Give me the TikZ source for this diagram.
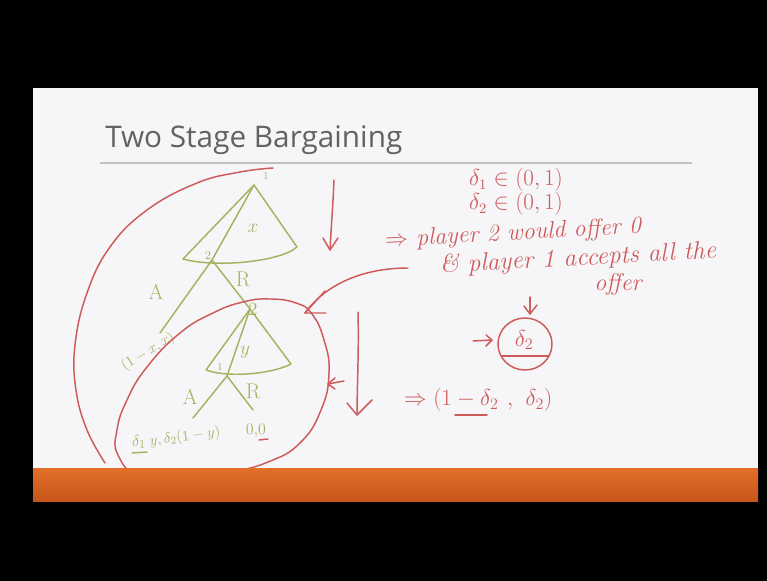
\documentclass[tikz,border=0pt]{standalone}
\usepackage{fontspec}
\usepackage{amsmath}
\usepackage{amssymb}
\usepackage{tikz}
\newfontfamily\titlefont{Open Sans}

\definecolor{penred}{RGB}{206,90,90}
\definecolor{pengreen}{RGB}{166,178,96}
\definecolor{slidebg}{RGB}{246,246,248}
\definecolor{titlegray}{RGB}{98,98,98}
\definecolor{rulegray}{RGB}{192,192,192}
\definecolor{bartop}{RGB}{226,112,40}
\definecolor{barbottom}{RGB}{196,84,26}

\tikzset{
  redpen/.style={draw=penred, line width=1.1pt, line cap=round, line join=round},
  greenpen/.style={draw=pengreen, line width=1.1pt, line cap=round, line join=round},
  redtext/.style={text=penred, inner sep=0.75pt, font=\itshape\fontsize{18}{20}\selectfont},
  greentext/.style={text=pengreen, inner sep=0.75pt, font=\itshape\fontsize{13}{15}\selectfont},
}

\begin{document}
\begin{tikzpicture}[x=0.75pt,y=0.75pt,yscale=-1,xscale=1]
\useasboundingbox (0,0) rectangle (767,581);

%Slide
\fill [black] (0,0) rectangle (767,581);
\fill [slidebg] (33,88) rectangle (758,468);

% Text Node
\draw (105,148) node [anchor=base west][inner sep=0pt][text=titlegray, font=\titlefont\fontsize{22.3}{26}\selectfont] (title) {Two Stage Bargaining};
%Straight Lines
\draw [rulegray, line width=1.2pt] (100,163) -- (692,163);

%Tree points
\coordinate (root) at (254,185);
\coordinate (xl) at (183,259);
\coordinate (xr) at (297,247);
\coordinate (p2) at (212,260);
\coordinate (acc1) at (160,333);
\coordinate (rej1) at (250,309);
\coordinate (yl) at (206,370);
\coordinate (yr) at (291,364);
\coordinate (p1) at (227,376);
\coordinate (acc2) at (193,418);
\coordinate (rej2) at (253,410);

%Shape: offer of player 1
\draw [greenpen] (xl) -- (root) -- (xr) .. controls (280,262) and (215,268) .. (xl) ;
%Straight Lines
\draw [greenpen] (root) -- (p2) -- (acc1) ;
\draw [greenpen] (p2) -- (rej1) ;
%Shape: offer of player 2
\draw [greenpen] (yl) -- (rej1) -- (yr) .. controls (272,374) and (228,378) .. (yl) ;
%Straight Lines
\draw [greenpen] (rej1) -- (p1) -- (acc2) ;
\draw [greenpen] (p1) -- (rej2) ;

% Text Node
\draw (266,176) node [greentext, font=\fontsize{8}{9}\selectfont] (who1) {1};
% Text Node
\draw (253,228) node [greentext, font=\fontsize{15}{16}\selectfont] (share1) {$x$};
% Text Node
\draw (208,256) node [greentext, font=\fontsize{9}{10}\selectfont] (who2) {2};
% Text Node
\draw (156,292) node [greentext, font=\fontsize{16}{18}\selectfont] (accA1) {A};
% Text Node
\draw (243,279) node [greentext, font=\fontsize{16}{18}\selectfont] (rejR1) {R};
% Text Node
\draw (253,309) node [greentext, font=\fontsize{14}{16}\selectfont] (who2b) {2};
% Text Node
\draw (148,352) node [greentext, font=\fontsize{10.5}{12}\selectfont, rotate=32] (pay1) {$(1-x, x)$};
% Text Node
\draw (245,352) node [greentext, font=\fontsize{15}{16}\selectfont] (share2) {$y$};
% Text Node
\draw (220,367) node [greentext, font=\fontsize{8}{9}\selectfont] (who1b) {1};
% Text Node
\draw (190,397) node [greentext, font=\fontsize{16}{18}\selectfont] (accA2) {A};
% Text Node
\draw (253,391) node [greentext, font=\fontsize{16}{18}\selectfont] (rejR2) {R};
% Text Node
\draw (139,442) node [greentext] (disc1) {$\delta_1$};
% Text Node
\draw (185,437) node [greentext, font=\fontsize{11}{12}\selectfont, rotate=8] (pay2) {$y, \delta_2(1-y)$};
% Text Node
\draw (256,431) node [greentext] (pay3) {$0{,}0$};
%Straight Lines
\draw [greenpen] (132,453) -- (147,452) ;
\draw [redpen] (259,440) -- (268,439) ;

%Curve Lines: whole game
\draw [redpen] plot [smooth, tension=0.7] coordinates {(273,168) (240,172) (197,183) (147,210) (110,247) (87,293) (75,345) (76,390) (87,430) (105,463)} ;
%Curve Lines: subgame
\draw [redpen] plot [smooth cycle, tension=0.8] coordinates {(243,302) (270,299) (296,303) (312,314) (324,340) (329,373) (321,410) (300,443) (268,462) (230,472) (185,478) (140,476) (118,455) (117,430) (127,400) (147,367) (180,333) (213,313)} ;

% Text Node
\draw (516,180) node [redtext, font=\fontsize{16}{18}\selectfont] (d1) {$\delta_1 \in (0,1)$};
% Text Node
\draw (516,204) node [redtext, font=\fontsize{16}{18}\selectfont] (d2) {$\delta_2 \in (0,1)$};
% Text Node
\draw (513,234) node [redtext, rotate=3] (line3) {$\Rightarrow$ player 2 would offer 0};
% Text Node
\draw (578,259) node [redtext, font=\itshape\fontsize{19}{21}\selectfont, rotate=3] (line4) {\& player 1 accepts all the};
% Text Node
\draw (618,284) node [redtext] (line5) {offer};
% Text Node
\draw (524,340) node [redtext] (d2c) {$\delta_2$};
% Text Node
\draw (478,400) node [redtext] (result) {$\Rightarrow (1-\delta_2\ ,\ \delta_2)$};

%Arrow points
\coordinate (a1s) at (334,180);
\coordinate (a1e) at (330,250);
\coordinate (a2s) at (408,268);
\coordinate (a2e) at (305,313);
\coordinate (a3s) at (358,312);
\coordinate (a3e) at (357,415);
\coordinate (a4s) at (344,381);
\coordinate (a4e) at (328,384);
\coordinate (a5s) at (530,297);
\coordinate (a5e) at (530,314);
\coordinate (a6s) at (473,341);
\coordinate (a6e) at (492,340);

%Straight Lines
\draw [redpen] (a1s) .. controls (333,205) and (331,230) .. (a1e) ;
\draw [redpen, shift={(a1e)}, rotate = 0] (-7,-12) -- (0,0) -- (8,-12) ;
%Curve Lines
\draw [redpen] (a2s) .. controls (362,268) and (325,285) .. (a2e) ;
\draw [redpen, shift={(a2e)}, rotate = 0] (20,-22) -- (0,0) -- (21,0) ;
%Straight Lines
\draw [redpen] (a3s) .. controls (359,350) and (357,390) .. (a3e) ;
\draw [redpen, shift={(a3e)}, rotate = 0] (-10,-12) -- (0,0) -- (15,-15) ;
\draw [redpen] (a4s) -- (a4e) ;
\draw [redpen, shift={(a4e)}, rotate = 0] (7,-6) -- (0,0) -- (7,5) ;
\draw [redpen] (a5s) -- (a5e) ;
\draw [redpen, shift={(a5e)}, rotate = 0] (-6,-8) -- (0,0) -- (7,-9) ;
\draw [redpen] (a6s) -- (a6e) ;
\draw [redpen, shift={(a6e)}, rotate = 0] (-6,-5) -- (0,0) -- (-6,6) ;

%Shape: Circle
\draw [redpen] (525,344) circle [x radius=27, y radius=26] ;
\draw [redpen] (502,356) -- (549,356) ;
\draw [redpen] (455,415) -- (487,415) ;

%Footer bar
\shade [top color=bartop, bottom color=barbottom] (33,468) rectangle (758,502);
\fill [black] (0,502) rectangle (767,581);

\end{tikzpicture}
\end{document}
